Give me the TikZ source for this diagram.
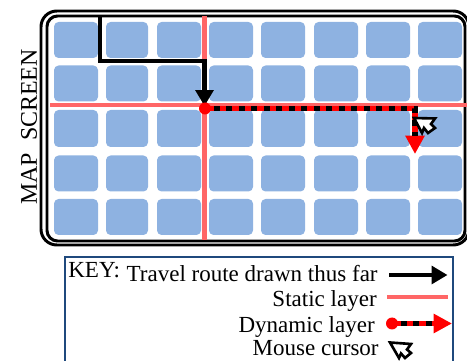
\documentclass[tikz,border=0pt]{standalone}
\usepackage{fontspec}
\setmainfont{Liberation Serif}
\usetikzlibrary{arrows.meta}
\definecolor{cellblue}{RGB}{142,178,225}
\definecolor{staticred}{RGB}{255,102,102}
\definecolor{keyblue}{RGB}{31,73,125}
\tikzset{
  cell/.style={rectangle,fill=cellblue,rounded corners=2.6pt,inner sep=0pt},
  staticline/.style={staticred,line width=2.5pt},
  routeline/.style={black,line width=2.3pt},
  routehead/.style={-{Triangle[length=9pt,width=10pt]}},
  dynline/.style={red,line width=3.2pt},
  dynhead/.style={-{Triangle[length=10.5pt,width=10.5pt]}},
  dynbeads/.style={black,line width=3.4pt,dash pattern=on 3.4pt off 3.7pt},
  dyndot/.style={circle,fill=red,inner sep=0pt,minimum size=0.24cm},
  keytext/.style={font=\fontsize{13.1pt}{15pt}\selectfont,inner sep=0pt,anchor=base east},
  cursorshape/.style={draw=black,fill=white,line width=1.5pt,line join=miter}
}
\begin{document}
\begin{tikzpicture}[x=0.02cm,y=-0.02cm]
    \clip (0,0) rectangle (467,361);

    % Map frame
    \draw[line width=1.7pt,rounded corners=9pt] (41,11) rectangle (469,245);
    \draw[line width=1.7pt,rounded corners=6pt] (47,16) rectangle (465,241);

    % Map tiles
    \foreach \row/\cy/\ch in {1/40/36,2/83.5/36,3/128.5/37,4/173.5/36,5/217/36}
      \foreach \col/\cx/\cw in {1/76/44,2/127/42,3/179/44,4/231/44,5/283/44,6/336/44,7/388/44,8/440/44}
        \node[cell,minimum width=\cw*0.02cm,minimum height=\ch*0.02cm] (tile\row\col) at (\cx,\cy) {};

    \node[rotate=90,font=\fontsize{13.6pt}{15pt}\selectfont,inner sep=0pt] (maplabel) at (29,127) {MAP\ \ SCREEN};

    % Static layer
    \coordinate (sw) at (50,105);
    \coordinate (se) at (469,105);
    \coordinate (sn) at (204.5,16);
    \coordinate (ss) at (204.5,240);
    \draw[staticline] (sw) -- (se);
    \draw[staticline] (sn) -- (ss);

    % Travel route
    \coordinate (rstart) at (100,16);
    \coordinate (rbend) at (100,61);
    \coordinate (rend) at (204.5,106);
    \draw[routeline,routehead] (rstart) -- (rbend) -| (rend);

    % Dynamic layer
    \coordinate (dstart) at (205,108.5);
    \coordinate (dcorner) at (415,108.5);
    \coordinate (dend) at (415,154);
    \coordinate (dbeads) at (415,136);
    \node[dyndot] (ddot) at (dstart) {};
    \draw[dynline,dynhead] (dstart) -- (dcorner) -- (dend);
    \draw[dynbeads] (dstart) ++(9,0) -- (dcorner) -- (dbeads);

    % Cursor
    \draw[cursorshape] (414,118) -- (435,118.5) -- (431,124) -- (435,128) -- (428,133) -- (424,128) -- (422,133) -- cycle;

    % Key
    \draw[keyblue,line width=1.1pt] (65,257) rectangle (453,370);
    \node[font=\fontsize{13.1pt}{15pt}\selectfont,inner sep=0pt,anchor=base west] (keytitle) at (68,278) {KEY:};
    \node[keytext] (k1) at (378,282) {Travel route drawn thus far};
    \node[keytext] (k2) at (377,307) {Static layer};
    \node[keytext] (k3) at (375,333) {Dynamic layer};
    \node[keytext] (k4) at (379,356) {Mouse cursor};

    \coordinate (k1a) at (389,275);
    \coordinate (k1b) at (447.5,275);
    \draw[routeline,routehead] (k1a) -- (k1b);
    \coordinate (k2a) at (387,297);
    \coordinate (k2b) at (448,297);
    \draw[staticline] (k2a) -- (k2b);
    \coordinate (k3a) at (392,323.5);
    \coordinate (k3b) at (452,323.5);
    \coordinate (k3c) at (434,323.5);
    \node[dyndot] (k3dot) at (k3a) {};
    \draw[dynline,dynhead] (k3a) -- (k3b);
    \draw[dynbeads,yshift=-0.02cm] (k3a) ++(9,0) -- (k3c);

    \draw[cursorshape] (390,342.5) -- (411,344) -- (407,349.5) -- (411,353) -- (405,358) -- (401,353.5) -- (399,358) -- cycle;
\end{tikzpicture}
\end{document}
